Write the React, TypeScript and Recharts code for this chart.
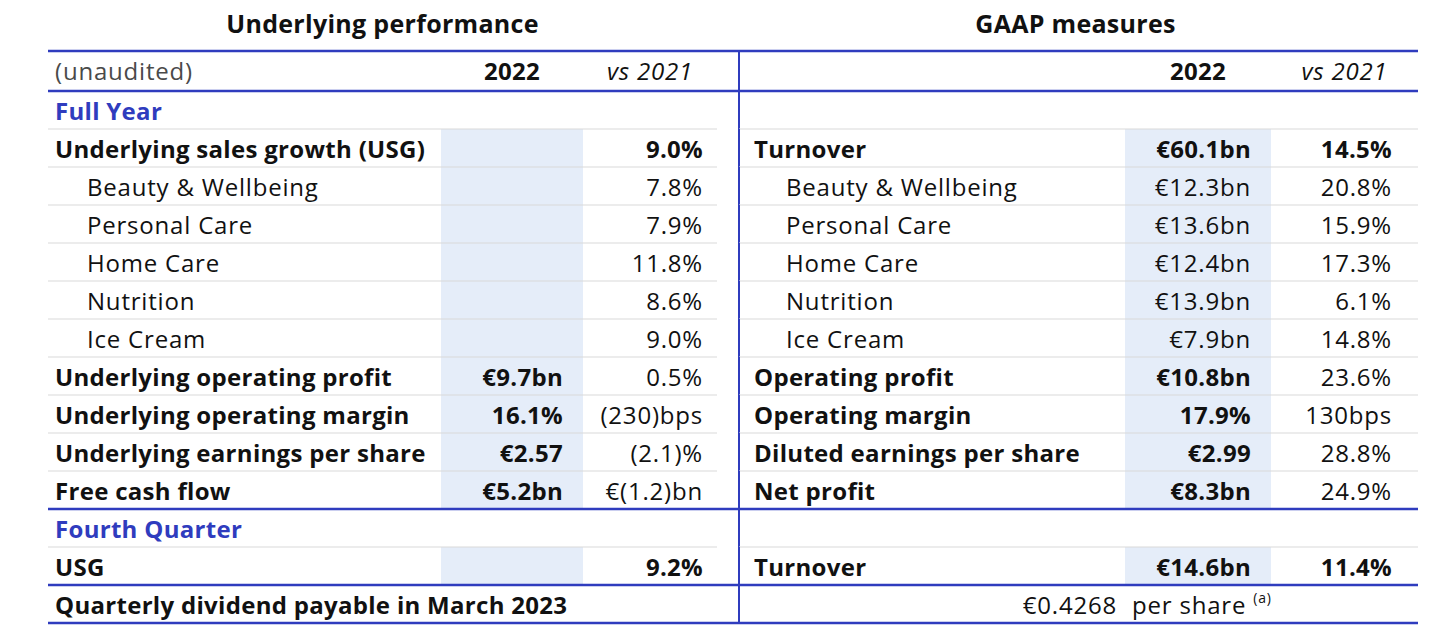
import { BarChart, Bar, XAxis, YAxis } from 'recharts';

const titles = ['Underlying performance', 'GAAP measures'];

// head | section | main | sub | kpi | footer
const rowKinds = [
  'head', 'section', 'main', 'sub', 'sub', 'sub', 'sub', 'sub',
  'kpi', 'kpi', 'kpi', 'kpi', 'section', 'main', 'footer',
];

const leftLabels = [
  '(unaudited)', 'Full Year', 'Underlying sales growth (USG)', 'Beauty & Wellbeing',
  'Personal Care', 'Home Care', 'Nutrition', 'Ice Cream', 'Underlying operating profit',
  'Underlying operating margin', 'Underlying earnings per share', 'Free cash flow',
  'Fourth Quarter', 'USG', 'Quarterly dividend payable in March 2023',
];
const leftValues = ['2022', '', '', '', '', '', '', '', '€9.7bn', '16.1%', '€2.57', '€5.2bn', '', '', ''];
const leftChange = [
  'vs 2021', '', '9.0%', '7.8%', '7.9%', '11.8%', '8.6%', '9.0%', '0.5%', '(230)bps',
  '(2.1)%', '€(1.2)bn', '', '9.2%', '',
];

const rightLabels = [
  '', '', 'Turnover', 'Beauty & Wellbeing', 'Personal Care', 'Home Care', 'Nutrition',
  'Ice Cream', 'Operating profit', 'Operating margin', 'Diluted earnings per share',
  'Net profit', '', 'Turnover', '€0.4268',
];
const rightValues = [
  '2022', '', '€60.1bn', '€12.3bn', '€13.6bn', '€12.4bn', '€13.9bn', '€7.9bn', '€10.8bn',
  '17.9%', '€2.99', '€8.3bn', '', '€14.6bn', 'per share',
];
const rightChange = [
  'vs 2021', '', '14.5%', '20.8%', '15.9%', '17.3%', '6.1%', '14.8%', '23.6%', '130bps',
  '28.8%', '24.9%', '', '11.4%', '',
];
const footnote = '(a)';

const BLUE = '#2f3cbe';
const SHADE = '#e5edf9';
const GRID = '#d9d9d9';
const INK = '#111111';
const FONT = '"Open Sans", sans-serif';
const SIZE = 24;

const COLUMNS = [
  { id: 'labelL', w: 393 },
  { id: 'valL', w: 142 },
  { id: 'chgL', w: 134 },
  { id: 'gap', w: 22 },
  { id: 'labelR', w: 386 },
  { id: 'valR', w: 146 },
  { id: 'chgR', w: 147 },
];
const TABLE_W = COLUMNS.reduce((s, c) => s + c.w, 0);
const LEFT_W = 393 + 142 + 134;
const RIGHT_W = 386 + 146 + 147;

const rows = rowKinds.map((kind, i) => {
  const row: Record<string, string | number> = { key: `r${i}`, i, kind };
  COLUMNS.forEach((c) => {
    row[c.id] = c.w;
  });
  return row;
});

function Txt(p: {
  x: number;
  y: number;
  anchor?: 'start' | 'middle' | 'end';
  bold?: boolean;
  italic?: boolean;
  color?: string;
  size?: number;
  children: any;
}) {
  return (
    <text
      x={p.x}
      y={p.y}
      textAnchor={p.anchor ?? 'start'}
      fontFamily={FONT}
      fontSize={p.size ?? SIZE}
      fontWeight={p.bold ? 700 : 400}
      fontStyle={p.italic ? 'italic' : 'normal'}
      letterSpacing={p.bold ? 0.3 : 0.8}
      fill={p.color ?? INK}
    >
      {p.children}
    </text>
  );
}

const makeCell = (col: string) => (props: any) => {
  const { x, y, width, height, payload } = props;
  const i = payload.i as number;
  const kind = rowKinds[i];
  const isHead = kind === 'head';
  // the header row is drawn a little taller than the others
  const top = isHead ? y - 2 : y;
  const base = (isHead ? y - 1 : y + 1) + height / 2 + SIZE * 0.37;
  const isData = kind === 'main' || kind === 'sub' || kind === 'kpi';
  const strong = kind === 'main' || kind === 'kpi';
  const blueTop = isHead || kind === 'section' || kind === 'footer';
  const last = i === rowKinds.length - 1;
  const indent = kind === 'sub' ? 32 : 0;

  let content: any = null;
  if (col === 'labelL') {
    content = (
      <>
        {isHead && (
          <Txt x={x + LEFT_W / 2} y={top - 18} anchor="middle" bold size={25}>{titles[0]}</Txt>
        )}
        <Txt
          x={x + 7 + indent}
          y={base}
          bold={!isHead && kind !== 'sub'}
          color={isHead ? '#4a4a4a' : kind === 'section' ? BLUE : INK}
        >
          {leftLabels[i]}
        </Txt>
      </>
    );
  } else if (col === 'valL') {
    content = isHead ? (
      <Txt x={x + width / 2} y={base} anchor="middle" bold>{leftValues[i]}</Txt>
    ) : (
      <Txt x={x + width - 20} y={base} anchor="end" bold={strong}>{leftValues[i]}</Txt>
    );
  } else if (col === 'chgL') {
    content = isHead ? (
      <Txt x={x + width / 2} y={base} anchor="middle" italic>{leftChange[i]}</Txt>
    ) : (
      <Txt x={x + width - 14} y={base} anchor="end" bold={kind === 'main'}>{leftChange[i]}</Txt>
    );
  } else if (col === 'labelR') {
    if (isHead) {
      content = (
        <Txt x={x + RIGHT_W / 2 - 3} y={top - 18} anchor="middle" bold size={25}>{titles[1]}</Txt>
      );
    } else if (kind === 'footer') {
      content = <Txt x={x + width - 8} y={base} anchor="end">{rightLabels[i]}</Txt>;
    } else {
      content = <Txt x={x + 15 + indent} y={base} bold={kind !== 'sub'}>{rightLabels[i]}</Txt>;
    }
  } else if (col === 'valR') {
    if (isHead) {
      content = <Txt x={x + width / 2} y={base} anchor="middle" bold>{rightValues[i]}</Txt>;
    } else if (kind === 'footer') {
      content = (
        <Txt x={x + 7} y={base}>
          {rightValues[i]}{' '}
          <tspan fontSize={14} dy={-11}>{footnote}</tspan>
        </Txt>
      );
    } else {
      content = <Txt x={x + width - 20} y={base} anchor="end" bold={strong}>{rightValues[i]}</Txt>;
    }
  } else if (col === 'chgR') {
    content = isHead ? (
      <Txt x={x + width / 2} y={base} anchor="middle" italic>{rightChange[i]}</Txt>
    ) : (
      <Txt x={x + width - 26} y={base} anchor="end" bold={kind === 'main'}>{rightChange[i]}</Txt>
    );
  }

  const shaded = isData && (col === 'valL' || col === 'valR');

  return (
    <g>
      {shaded && <rect x={x} y={y} width={width} height={height} fill={SHADE} />}
      {blueTop ? (
        <line x1={x} x2={x + width} y1={top} y2={top} stroke={BLUE} strokeWidth={2.5} />
      ) : (
        col !== 'gap' && <line x1={x} x2={x + width} y1={y} y2={y} stroke={GRID} strokeWidth={1.2} />
      )}
      {last && (
        <line x1={x} x2={x + width} y1={y + height} y2={y + height} stroke={BLUE} strokeWidth={2.5} />
      )}
      {col === 'labelR' && (
        <line x1={x} x2={x} y1={top} y2={y + height} stroke={BLUE} strokeWidth={2} />
      )}
      {content}
    </g>
  );
};

export default function App() {
  return (
    <div style={{ position: 'absolute', left: 0, top: 0, width: 1434, height: 642, background: '#fff' }}>
      <BarChart
        width={1434}
        height={642}
        data={rows}
        layout="vertical"
        margin={{ top: 53, right: 16, bottom: 19, left: 48 }}
        barCategoryGap={0}
        barGap={0}
      >
        <XAxis type="number" domain={[0, TABLE_W]} hide />
        <YAxis type="category" dataKey="key" hide />
        {COLUMNS.map((c) => (
          <Bar
            key={c.id}
            dataKey={c.id}
            stackId="table"
            fill="none"
            isAnimationActive={false}
            shape={makeCell(c.id)}
          />
        ))}
      </BarChart>
    </div>
  );
}
